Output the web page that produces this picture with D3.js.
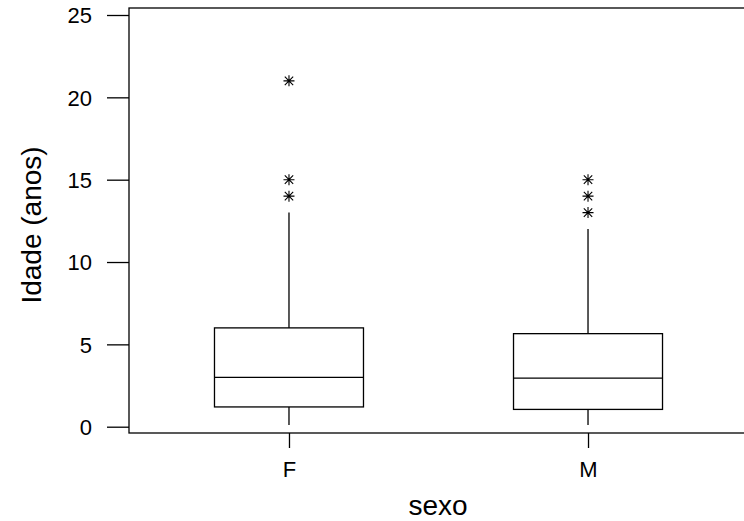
<!DOCTYPE html>
<html>
<head>
<meta charset="utf-8">
<script src="https://cdn.jsdelivr.net/npm/d3@7"></script>
<style>
  body { margin: 0; background: #fff; }
  svg { display: block; font-family: "Liberation Sans", Arial, sans-serif; }
</style>
</head>
<body>
<svg id="chart" width="744" height="521"></svg>
<script>
// ---- data ----
const categories = ["F", "M"];
const whiskerLow  = [0.1, 0.1];
const q1          = [1.2, 1.05];
const median      = [3.0, 2.95];
const q3          = [6.0, 5.65];
const whiskerHigh = [13, 12];
const outliers    = [[21, 15, 14], [15, 14, 13]];
const yTicks      = [0, 5, 10, 15, 20, 25];
const xLabel = "sexo";
const yLabel = "Idade (anos)";

// ---- layout ----
const svg = d3.select("#chart");
const frame = { left: 129, top: 8, right: 748, bottom: 433 };

const x = d3.scalePoint().domain(categories).range([frame.left, frame.right]).padding(0.535);
const y = d3.scaleLinear().domain([0, 25]).range([426.7, 15]);
const boxW = 149;

// frame
svg.append("rect")
  .attr("x", frame.left).attr("y", frame.top)
  .attr("width", frame.right - frame.left).attr("height", frame.bottom - frame.top)
  .attr("fill", "none").attr("stroke", "#000").attr("stroke-width", 1.3);

// y axis
const yAxis = d3.axisLeft(y).tickValues(yTicks).tickSize(22).tickPadding(15).tickSizeOuter(0);
const gy = svg.append("g").attr("transform", `translate(${frame.left},0)`).call(yAxis);
gy.select(".domain").remove();
gy.selectAll(".tick line").attr("stroke", "#000").attr("stroke-width", 1.3);
gy.selectAll(".tick text").attr("font-size", 22).attr("fill", "#000")
  .attr("font-family", "'Liberation Sans', Arial, sans-serif").attr("dy", "0.36em");

// x axis
const xAxis = d3.axisBottom(x).tickSize(15).tickPadding(13).tickSizeOuter(0);
const gx = svg.append("g").attr("transform", `translate(0,${frame.bottom})`).call(xAxis);
gx.select(".domain").remove();
gx.selectAll(".tick line").attr("stroke", "#000").attr("stroke-width", 1.3);
gx.selectAll(".tick text").attr("font-size", 22).attr("fill", "#000")
  .attr("font-family", "'Liberation Sans', Arial, sans-serif");

// boxes
const data = categories.map((c, i) => ({
  c, lo: whiskerLow[i], q1: q1[i], med: median[i], q3: q3[i], hi: whiskerHigh[i], out: outliers[i]
}));

const g = svg.append("g").attr("stroke", "#000").attr("stroke-width", 1.3).attr("fill", "none");
data.forEach(d => {
  const cx = x(d.c);
  g.append("line").attr("x1", cx).attr("x2", cx).attr("y1", y(d.lo)).attr("y2", y(d.q1));
  g.append("line").attr("x1", cx).attr("x2", cx).attr("y1", y(d.q3)).attr("y2", y(d.hi));
  g.append("rect").attr("x", cx - boxW / 2).attr("y", y(d.q3))
    .attr("width", boxW).attr("height", y(d.q1) - y(d.q3)).attr("fill", "#fff");
  g.append("line").attr("x1", cx - boxW / 2).attr("x2", cx + boxW / 2)
    .attr("y1", y(d.med)).attr("y2", y(d.med));
  d.out.forEach(v => {
    const py = y(v), r = 5.5, r2 = 4.2;
    const path = `M${cx - r},${py}H${cx + r}M${cx},${py - r}V${py + r}` +
      `M${cx - r2},${py - r2}L${cx + r2},${py + r2}M${cx - r2},${py + r2}L${cx + r2},${py - r2}`;
    g.append("path").attr("d", path).attr("stroke-width", 1.1);
  });
});

// axis titles
svg.append("text").attr("x", 438).attr("y", 515).attr("text-anchor", "middle")
  .attr("font-size", 28).attr("fill", "#000").text(xLabel);
svg.append("text").attr("transform", "translate(41,225) rotate(-90)").attr("text-anchor", "middle")
  .attr("font-size", 28).attr("fill", "#000").text(yLabel);
</script>
</body>
</html>
